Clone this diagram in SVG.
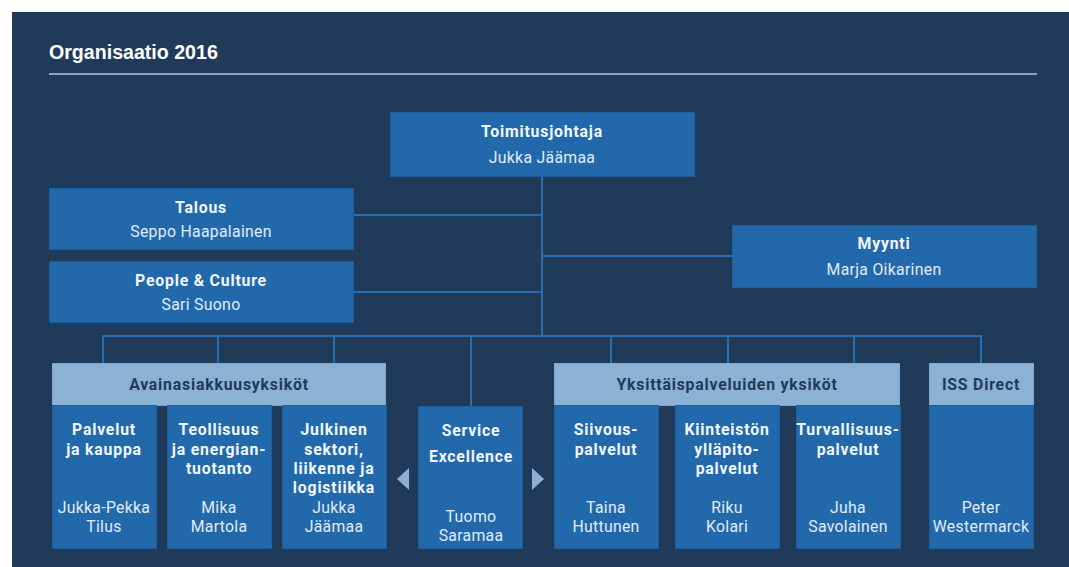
<svg xmlns="http://www.w3.org/2000/svg" width="1069" height="567" viewBox="0 0 1069 567">
  <style>
    .panel { fill: #203b5a; }
    .box { fill: #2169ab; stroke: #1e5e9c; stroke-width: 1; }
    .hdr { fill: #8cb1d4; stroke: #7ea5cb; stroke-width: 1; }
    .link { stroke: #2a6db0; stroke-width: 2; fill: none; }
    .title { font-family: "Liberation Sans", Arial, sans-serif; font-weight: bold; font-size: 19.6px; fill: #ffffff; }
    .b { font-family: Roboto, "Liberation Sans", sans-serif; font-weight: bold; font-size: 15.8px; letter-spacing: 0.8px; fill: #f2f6fb; text-anchor: middle; }
    .n { font-family: Roboto, "Liberation Sans", sans-serif; font-size: 15.8px; letter-spacing: 0.3px; fill: #e3ebf5; text-anchor: middle; }
    .h { font-family: Roboto, "Liberation Sans", sans-serif; font-weight: bold; font-size: 15.8px; letter-spacing: 0.8px; fill: #1f3a5a; text-anchor: middle; }
    .tri { fill: #8cb1d4; }
  </style>

  <!-- background panel and heading -->
  <rect class="panel" x="12" y="12" width="1057" height="555"/>
  <text class="title" x="49" y="59">Organisaatio 2016</text>
  <line x1="49" y1="74" x2="1037" y2="74" stroke="#8aa6c3" stroke-width="2"/>

  <!-- connectors -->
  <g id="connectors">
    <line class="link" x1="542" y1="176" x2="542" y2="336"/>
    <line class="link" x1="354" y1="215" x2="542" y2="215"/>
    <line class="link" x1="354" y1="292" x2="542" y2="292"/>
    <line class="link" x1="542" y1="256" x2="732" y2="256"/>
    <line class="link" x1="102" y1="336" x2="982" y2="336"/>
    <line class="link" x1="103" y1="336" x2="103" y2="363"/>
    <line class="link" x1="218" y1="336" x2="218" y2="363"/>
    <line class="link" x1="334" y1="336" x2="334" y2="363"/>
    <line class="link" x1="471" y1="336" x2="471" y2="406"/>
    <line class="link" x1="611" y1="336" x2="611" y2="363"/>
    <line class="link" x1="728" y1="336" x2="728" y2="363"/>
    <line class="link" x1="854" y1="336" x2="854" y2="363"/>
    <line class="link" x1="981" y1="336" x2="981" y2="363"/>
  </g>

  <!-- top management -->
  <g id="toimitusjohtaja">
    <rect class="box" x="390.5" y="112.5" width="304" height="64"/>
    <text class="b" x="542" y="137">Toimitusjohtaja</text>
    <text class="n" x="542" y="163">Jukka Jäämaa</text>
  </g>
  <g id="talous">
    <rect class="box" x="49.5" y="188.5" width="304" height="61"/>
    <text class="b" x="201" y="213">Talous</text>
    <text class="n" x="201" y="237">Seppo Haapalainen</text>
  </g>
  <g id="people-culture">
    <rect class="box" x="49.5" y="261.5" width="304" height="61"/>
    <text class="b" x="201" y="286">People &amp; Culture</text>
    <text class="n" x="201" y="310">Sari Suono</text>
  </g>
  <g id="myynti">
    <rect class="box" x="732.5" y="225.5" width="304" height="62"/>
    <text class="b" x="884" y="249">Myynti</text>
    <text class="n" x="884" y="275">Marja Oikarinen</text>
  </g>

  <!-- key account units -->
  <g id="avainasiakkuusyksikot">
    <rect class="hdr" x="52.5" y="363.5" width="333" height="42"/>
    <text class="h" x="219" y="390">Avainasiakkuusyksiköt</text>
  </g>
  <g id="palvelut-kauppa">
    <rect class="box" x="52.5" y="405.5" width="104" height="143"/>
    <text class="b" x="104" y="435">Palvelut<tspan x="104" dy="20">ja kauppa</tspan></text>
    <text class="n" x="104" y="513">Jukka-Pekka<tspan x="104" dy="19">Tilus</tspan></text>
  </g>
  <g id="teollisuus">
    <rect class="box" x="167.5" y="405.5" width="104" height="143"/>
    <text class="b" x="219" y="435">Teollisuus<tspan x="219" dy="20">ja energian-</tspan><tspan x="219" dy="19">tuotanto</tspan></text>
    <text class="n" x="219" y="513">Mika<tspan x="219" dy="19">Martola</tspan></text>
  </g>
  <g id="julkinen-sektori">
    <rect class="box" x="282.5" y="405.5" width="104" height="143"/>
    <text class="b" x="334" y="435">Julkinen<tspan x="334" dy="20">sektori,</tspan><tspan x="334" dy="19">liikenne ja</tspan><tspan x="334" dy="19">logistiikka</tspan></text>
    <text class="n" x="334" y="513">Jukka<tspan x="334" dy="19">Jäämaa</tspan></text>
  </g>

  <!-- service excellence with side arrows -->
  <g id="service-excellence">
    <rect class="box" x="418.5" y="406.5" width="104" height="142"/>
    <text class="b" x="471" y="436">Service<tspan x="471" dy="26">Excellence</tspan></text>
    <text class="n" x="471" y="522">Tuomo<tspan x="471" dy="19">Saramaa</tspan></text>
    <polygon class="tri" points="397,479 409,468 409,490"/>
    <polygon class="tri" points="544,479 532,468 532,490"/>
  </g>

  <!-- service line units -->
  <g id="yksittaispalveluiden-yksikot">
    <rect class="hdr" x="554.5" y="363.5" width="345" height="42"/>
    <text class="h" x="727" y="390">Yksittäispalveluiden yksiköt</text>
  </g>
  <g id="siivouspalvelut">
    <rect class="box" x="554.5" y="405.5" width="104" height="143"/>
    <text class="b" x="606" y="435">Siivous-<tspan x="606" dy="20">palvelut</tspan></text>
    <text class="n" x="606" y="513">Taina<tspan x="606" dy="19">Huttunen</tspan></text>
  </g>
  <g id="kiinteiston-yllapitopalvelut">
    <rect class="box" x="675.5" y="405.5" width="104" height="143"/>
    <text class="b" x="727" y="435">Kiinteistön<tspan x="727" dy="20">ylläpito-</tspan><tspan x="727" dy="19">palvelut</tspan></text>
    <text class="n" x="727" y="513">Riku<tspan x="727" dy="19">Kolari</tspan></text>
  </g>
  <g id="turvallisuuspalvelut">
    <rect class="box" x="796.5" y="405.5" width="104" height="143"/>
    <text class="b" x="848" y="435">Turvallisuus-<tspan x="848" dy="20">palvelut</tspan></text>
    <text class="n" x="848" y="513">Juha<tspan x="848" dy="19">Savolainen</tspan></text>
  </g>

  <!-- ISS Direct -->
  <g id="iss-direct">
    <rect class="hdr" x="929.5" y="363.5" width="104" height="42"/>
    <text class="h" x="981" y="390">ISS Direct</text>
    <rect class="box" x="929.5" y="405.5" width="104" height="143"/>
    <text class="n" x="981" y="513">Peter<tspan x="981" dy="19">Westermarck</tspan></text>
  </g>
</svg>
